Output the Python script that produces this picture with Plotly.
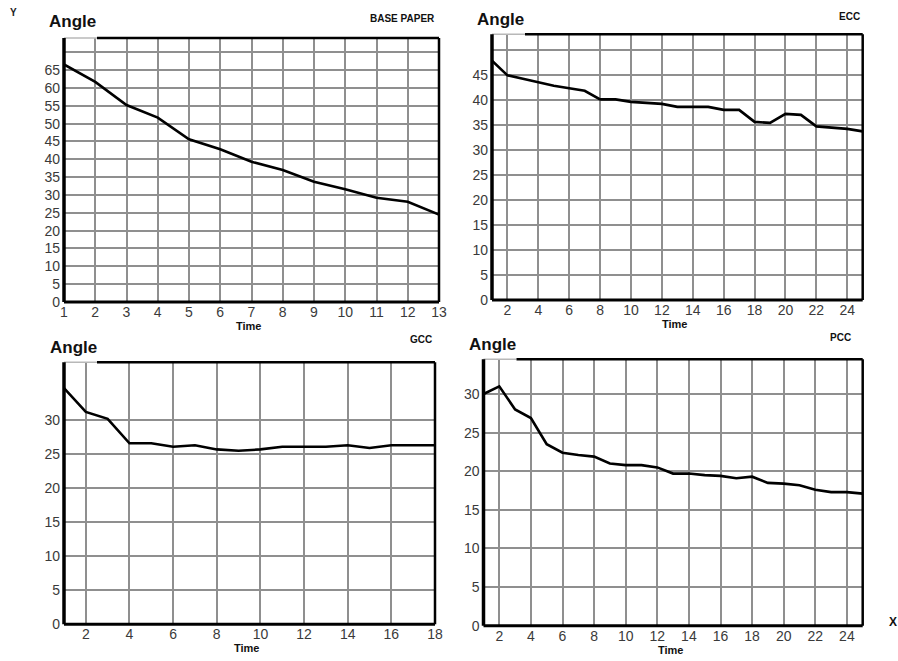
import plotly.graph_objects as go

# ---------------- data ----------------
base_time = list(range(1, 14))
base_angle = [66.6, 61.7, 55.2, 51.7, 45.6, 42.8, 39.3, 37.0, 33.7, 31.6, 29.2, 28.1, 24.5]

ecc_time = list(range(1, 26))
ecc_angle = [47.8, 44.9, 44.2, 43.5, 42.8, 42.3, 41.8, 40.1, 40.1, 39.6, 39.4, 39.2, 38.6,
             38.6, 38.6, 38.0, 38.0, 35.6, 35.4, 37.2, 37.0, 34.7, 34.4, 34.2, 33.7]

gcc_time = list(range(1, 19))
gcc_angle = [34.7, 31.2, 30.2, 26.6, 26.6, 26.1, 26.3, 25.7, 25.5, 25.7, 26.1, 26.1, 26.1,
             26.3, 25.9, 26.3, 26.3, 26.3]

pcc_time = list(range(1, 26))
pcc_angle = [30.0, 31.0, 28.0, 26.9, 23.5, 22.4, 22.1, 21.9, 21.0, 20.8, 20.8, 20.5, 19.7,
             19.7, 19.5, 19.4, 19.1, 19.3, 18.5, 18.4, 18.2, 17.6, 17.3, 17.3, 17.1]

titles = ["BASE PAPER", "ECC", "GCC", "PCC"]
base_yticks = [0, 5, 10, 15, 20, 25, 30, 35, 40, 45, 50, 55, 60, 65, 70]
ecc_yticks = [0, 5, 10, 15, 20, 25, 30, 35, 40, 45, 50]
gcc_yticks = [0, 5, 10, 15, 20, 25, 30]
pcc_yticks = [0, 5, 10, 15, 20, 25, 30]
base_xticks = list(range(1, 14))
even_xticks_24 = list(range(2, 25, 2))
even_xticks_18 = list(range(2, 19, 2))

# body margin is removed by a small post script, so figure == window
OFF = 0
W, H = 898, 661

# panel geometry in window pixels: left, right, top, bottom
panels = [
    dict(px=(64, 439, 38, 302), xr=[1, 13], yr=[0, 74], xt=base_xticks, yt=base_yticks, ylab_max=65,
         x=base_time, y=base_angle, title=titles[0], ang=(47, 22), tit=(437, 18)),
    dict(px=(492, 862.7, 34.3, 300), xr=[1, 25], yr=[0, 53.1], xt=even_xticks_24, yt=ecc_yticks, ylab_max=45,
         x=ecc_time, y=ecc_angle, title=titles[1], ang=(475, 20), tit=(862, 16)),
    dict(px=(64, 435, 362.3, 624.3), xr=[1, 18], yr=[0, 38.5], xt=even_xticks_18, yt=gcc_yticks, ylab_max=30,
         x=gcc_time, y=gcc_angle, title=titles[2], ang=(48, 347), tit=(434, 339)),
    dict(px=(483.5, 862.7, 359.3, 625.7), xr=[1, 25], yr=[0, 34.5], xt=even_xticks_24, yt=pcc_yticks, ylab_max=30,
         x=pcc_time, y=pcc_angle, title=titles[3], ang=(467, 344), tit=(853, 337)),
]

fig = go.Figure()
layout = dict(width=W, height=H, margin=dict(l=0, r=0, t=0, b=0, pad=0, autoexpand=False),
              paper_bgcolor="white", plot_bgcolor="white", showlegend=False,
              font=dict(family="Liberation Sans, Arial, sans-serif", color="#333333"))
annotations = []
shapes = []


def fx(px):
    return (px - OFF) / W


def fy(py):
    return 1 - (py - OFF) / H


grid_color = "#8f8f8f"

for i, p in enumerate(panels):
    n = "" if i == 0 else str(i + 1)
    l, r, t, b = p["px"]
    fig.add_trace(go.Scatter(x=p["x"], y=p["y"], mode="lines",
                             line=dict(color="black", width=2.6),
                             xaxis="x" + n, yaxis="y" + n, hoverinfo="skip"))
    layout["xaxis" + n] = dict(
        domain=[fx(l), fx(r)], range=p["xr"], anchor="y" + n, automargin=False,
        tickvals=p["xt"], ticktext=[str(v) for v in p["xt"]],
        showgrid=True, gridcolor=grid_color, gridwidth=2,
        zeroline=False, showline=False, ticks="", ticklen=0,
        tickfont=dict(size=14, color="#3a3a3a"),
    )
    layout["yaxis" + n] = dict(
        domain=[fy(b), fy(t)], range=p["yr"], anchor="x" + n, automargin=False,
        tickvals=p["yt"],
        ticktext=[str(v) if v <= p["ylab_max"] else "" for v in p["yt"]],
        showgrid=True, gridcolor=grid_color, gridwidth=2,
        zeroline=False, showline=False, ticks="", ticklen=0,
        ticklabelstandoff=3,
        tickfont=dict(size=14, color="#3a3a3a"),
    )
    xd = "x" + n + " domain"
    yd = "y" + n + " domain"
    # right border
    shapes.append(dict(type="line", xref=xd, yref=yd, x0=1, x1=1, y0=0, y1=1,
                       line=dict(color="black", width=2.5)))
    # top border: light gray near left (under the label), black afterwards
    split = 33 / (r - l)
    shapes.append(dict(type="line", xref=xd, yref=yd, x0=0, x1=split, y0=1, y1=1,
                       line=dict(color="#b8b8b8", width=1.5)))
    shapes.append(dict(type="line", xref=xd, yref=yd, x0=split, x1=1, y0=1, y1=1,
                       line=dict(color="black", width=2.5)))
    # bottom axis
    shapes.append(dict(type="line", xref=xd, yref=yd, x0=0, x1=1, y0=0, y1=0,
                       line=dict(color="black", width=3)))
    # left axis
    shapes.append(dict(type="line", xref=xd, yref=yd, x0=0, x1=0, y0=0, y1=1,
                       line=dict(color="black", width=3.5)))
    # "Angle" label
    ax_, ay_ = p["ang"]
    annotations.append(dict(text="<b>Angle</b>", xref="paper", yref="paper",
                            x=fx(ax_), y=fy(ay_),
                            xanchor="left", yanchor="middle", showarrow=False,
                            font=dict(size=17, color="#111111")))
    # Panel title
    tx_, ty_ = p["tit"]
    annotations.append(dict(text="<b>" + p["title"] + "</b>", xref="paper", yref="paper",
                            x=fx(tx_), y=fy(ty_),
                            xanchor="right", yanchor="middle", showarrow=False,
                            font=dict(size=10, color="#111111")))
    # "Time" label
    annotations.append(dict(text="<b>Time</b>", xref="paper", yref="paper",
                            x=fx((l + r) / 2 - 3), y=fy(b + 24),
                            xanchor="center", yanchor="middle", showarrow=False,
                            font=dict(size=11, color="#111111")))

annotations.append(dict(text="<b>Y</b>", xref="paper", yref="paper", x=fx(13), y=fy(13),
                        xanchor="center", yanchor="middle", showarrow=False,
                        font=dict(size=10, color="#222222")))
annotations.append(dict(text="<b>X</b>", xref="paper", yref="paper", x=fx(893), y=fy(622),
                        xanchor="center", yanchor="middle", showarrow=False,
                        font=dict(size=12, color="#111111")))

layout["annotations"] = annotations
layout["shapes"] = shapes
fig.update_layout(**layout)
fig.write_html(
    "out.html",
    config={"responsive": False, "displayModeBar": False},
    post_script="document.body.style.margin='0';document.body.style.overflow='hidden';",
)
